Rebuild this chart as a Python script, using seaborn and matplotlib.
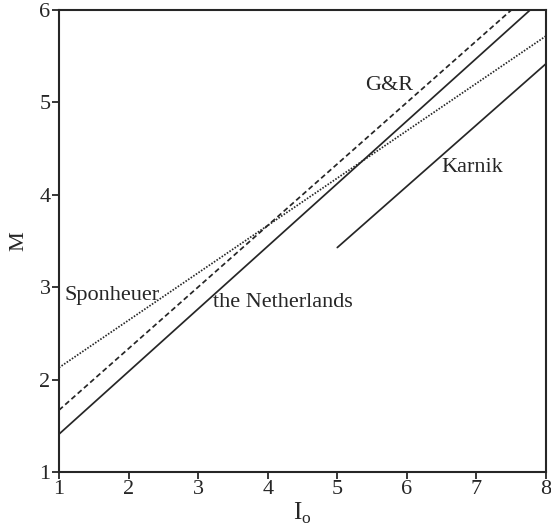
import matplotlib
matplotlib.use("Agg")
import matplotlib.pyplot as plt
import seaborn as sns
import pandas as pd

# Magnitude–intensity relations: endpoints of each straight line (I0, M)
netherlands_i = [1.0, 7.77]
netherlands_m = [1.41, 6.0]
gr_i = [1.0, 7.5]
gr_m = [1.67, 6.0]
sponheuer_i = [1.0, 8.0]
sponheuer_m = [2.13, 5.72]
karnik_i = [5.0, 8.0]
karnik_m = [3.43, 5.42]

x_ticks = [1, 2, 3, 4, 5, 6, 7, 8]
y_ticks = [1, 2, 3, 4, 5, 6]

sns.set_theme(style="white")
plt.rcParams["font.family"] = ["Liberation Serif", "DejaVu Serif"]
plt.rcParams["mathtext.fontset"] = "custom"
plt.rcParams["mathtext.rm"] = "Liberation Serif"

ink = "#262626"

fig = plt.figure(figsize=(5.51, 5.31), dpi=100)
ax = fig.add_axes([0.107, 0.111, 0.884, 0.870])

relations = [
    ("the Netherlands", netherlands_i, netherlands_m, "-"),
    ("G&R", gr_i, gr_m, (0, (3.0, 1.8))),
    ("Sponheuer", sponheuer_i, sponheuer_m, (0, (0.9, 0.9))),
    ("Karnik", karnik_i, karnik_m, "-"),
]
for name, xi, ym, ls in relations:
    df = pd.DataFrame({"I0": xi, "M": ym})
    sns.lineplot(data=df, x="I0", y="M", ax=ax, color=ink,
                 linewidth=1.25, linestyle=ls)

ax.set_xlim(1, 8)
ax.set_ylim(1, 6)
ax.set_xticks(x_ticks)
ax.set_yticks(y_ticks)
for s in ax.spines.values():
    s.set_color(ink)
    s.set_linewidth(1.5)
ax.tick_params(axis="both", direction="out", length=5, width=1.3,
               color=ink, labelsize=16, labelcolor=ink, pad=1)
ax.tick_params(left=True, bottom=True)

ax.set_xlabel(r"$\mathrm{I}_{\mathrm{o}}$", fontsize=18, color=ink, labelpad=1)
ax.set_ylabel("M", fontsize=16, color=ink, labelpad=8)

lab = dict(fontsize=16, color=ink)
ax.text(5.40, 5.18, "G&R", ha="left", va="center", **lab)
ax.text(6.49, 4.30, "Karnik", ha="left", va="center", **lab)
ax.text(1.08, 2.91, "Sponheuer", ha="left", va="center", **lab)
ax.text(3.21, 2.84, "the Netherlands", ha="left", va="center", **lab)

fig.savefig("out.png", dpi=100)
